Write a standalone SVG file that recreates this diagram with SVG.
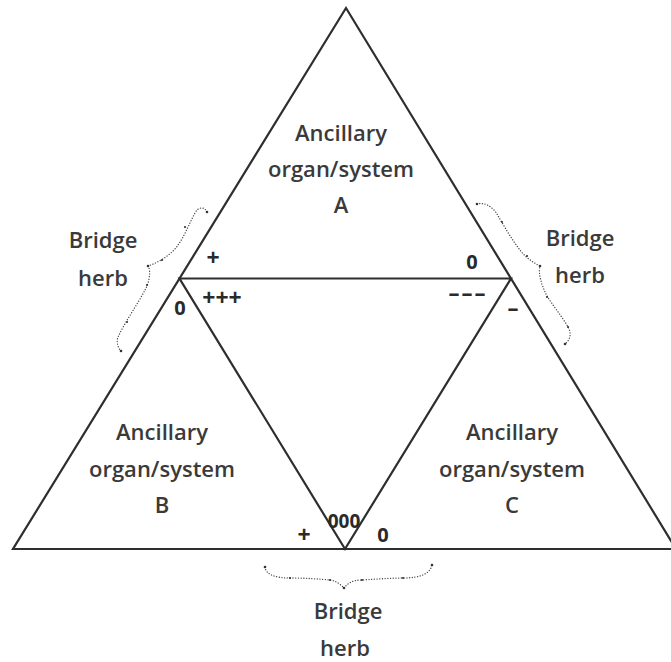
<svg xmlns="http://www.w3.org/2000/svg" width="671" height="662" viewBox="0 0 671 662">
<style>
.t{font-family:"Open Sans","Noto Sans","Liberation Sans",sans-serif;font-size:22px;fill:#3a3a3a;text-anchor:middle;font-weight:600}
.s{font-family:"Open Sans","Noto Sans","Liberation Sans",sans-serif;font-size:20px;fill:#2a2a2a;text-anchor:middle;font-weight:700}
.p{font-size:23px}
.ln{stroke:#2e2e2e;stroke-width:2.2;fill:none;stroke-linejoin:miter}
.br{stroke:#444;stroke-width:1.3;fill:none;stroke-dasharray:0.1 2.6;stroke-linecap:round}
.dot{fill:#333}
</style>
<rect width="671" height="662" fill="#fff"/>
<g id="connectors">
<polygon class="ln" points="346,8 13,549 676,549"/>
<polygon class="ln" points="179.5,278.5 511,278.5 345,549"/>
</g>
<g id="node-a">
<text class="t" x="341" y="141">Ancillary</text>
<text class="t" x="341" y="177">organ/system</text>
<text class="t" x="341" y="213">A</text>
</g>
<g id="node-b">
<text class="t" x="162" y="440">Ancillary</text>
<text class="t" x="162" y="477">organ/system</text>
<text class="t" x="162" y="513">B</text>
</g>
<g id="node-c">
<text class="t" x="512" y="440">Ancillary</text>
<text class="t" x="512" y="477">organ/system</text>
<text class="t" x="512" y="513">C</text>
</g>
<g id="bridge-left">
<path class="br" d="M207,212 C204,206 198,207 195,213 C189,224 184,237 178,245 C172,254 160,262 148,266 C152,272 148,285 145,290 C137,305 125,322 118,337 C116,342 118,348 121,351"/>
<circle class="dot" cx="207" cy="212" r="1.3"/><circle class="dot" cx="185" cy="227" r="1.1"/><circle class="dot" cx="162" cy="260" r="1.1"/><circle class="dot" cx="148" cy="266" r="1.3"/><circle class="dot" cx="147" cy="285" r="1.1"/><circle class="dot" cx="127" cy="322" r="1.1"/><circle class="dot" cx="121" cy="351" r="1.3"/>
<text class="t" x="103" y="248">Bridge</text>
<text class="t" x="103" y="286">herb</text>
</g>
<g id="bridge-right">
<path class="br" d="M477,204 C484,202 492,206 497,214 C504,226 512,240 520,250 C526,258 534,263 540,266 C538,272 541,284 546,294 C552,305 562,316 568,327 C572,334 570,340 565,344"/>
<circle class="dot" cx="477" cy="204" r="1.3"/><circle class="dot" cx="502" cy="222" r="1.1"/><circle class="dot" cx="527" cy="256" r="1.1"/><circle class="dot" cx="540" cy="266" r="1.3"/><circle class="dot" cx="547" cy="297" r="1.1"/><circle class="dot" cx="568" cy="327" r="1.1"/><circle class="dot" cx="565" cy="344" r="1.3"/>
<text class="t" x="580" y="246">Bridge</text>
<text class="t" x="580" y="283">herb</text>
</g>
<g id="bridge-bottom">
<path class="br" d="M265,567 C266,575 276,578 290,578 C305,578 320,579 330,580 C337,581 341,585 344,588 C347,584 352,580 362,580 C378,579 392,578 403,578 C420,578 430,574 432,565"/>
<circle class="dot" cx="265" cy="567" r="1.3"/><circle class="dot" cx="290" cy="578" r="1.1"/><circle class="dot" cx="330" cy="580" r="1.1"/><circle class="dot" cx="344" cy="588" r="1.3"/><circle class="dot" cx="362" cy="580" r="1.1"/><circle class="dot" cx="403" cy="578" r="1.1"/><circle class="dot" cx="432" cy="565" r="1.3"/>
<text class="t" x="348" y="619">Bridge</text>
<text class="t" x="345" y="656">herb</text>
</g>
<g id="signs">
<text class="s p" x="213" y="266">+</text>
<text class="s p" x="222" y="306">+++</text>
<text class="s" x="180" y="315">0</text>
<text class="s" x="472" y="269">0</text>
<text class="s" x="468" y="301" style="font-size:22px;letter-spacing:2px">–––</text>
<text class="s" x="513" y="316" style="font-size:22px">–</text>
<text class="s" x="344" y="528" style="font-size:19px">000</text>
<text class="s p" x="304" y="543">+</text>
<text class="s" x="383" y="542">0</text>
</g>
</svg>
